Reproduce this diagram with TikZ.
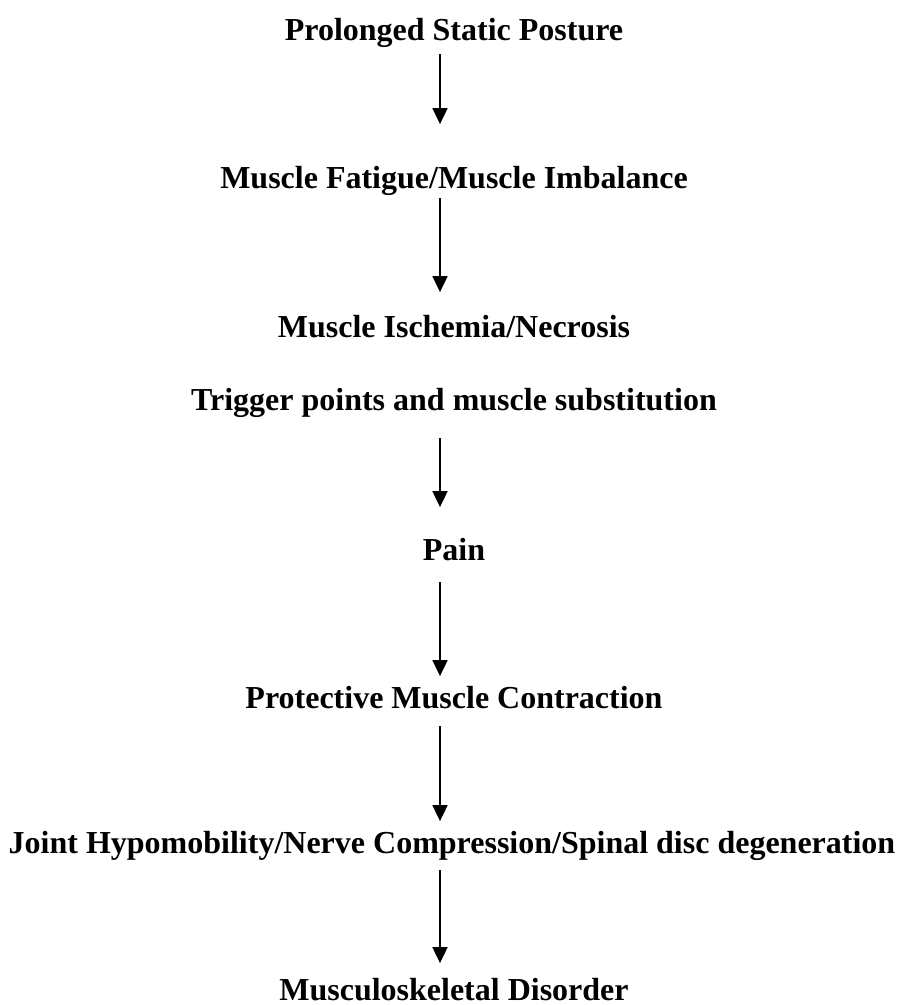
\documentclass[tikz,border=0pt]{standalone}
\usepackage{fontspec}
\setmainfont{Liberation Serif}
\usetikzlibrary{arrows.meta}
\tikzset{
  stage/.style={inner sep=0pt,anchor=base,font=\fontsize{32}{38}\selectfont\bfseries,
    text height=23pt,text depth=7pt},
}
\begin{document}
\begin{tikzpicture}[x=1pt,y=-1pt,>={Triangle[length=16pt,width=15pt]},line width=1.8pt,]
\useasboundingbox (0,0) rectangle (902,1005);
%%
  \node (node_0) at (454,40) [stage] {Prolonged Static Posture};
  \node (node_1) at (454,188) [stage] {Muscle Fatigue/Muscle Imbalance};
  \node (node_2) at (454,337) [stage] {Muscle Ischemia/Necrosis};
  \node (node_3) at (454,410) [stage] {Trigger points and muscle substitution};
  \node (node_4) at (454,560) [stage] {Pain};
  \node (node_5) at (454,708) [stage] {Protective Muscle Contraction};
  \node (node_6) at (452,853) [stage] {Joint Hypomobility/Nerve Compression/Spinal disc degeneration};
  \node (node_7) at (454,1000) [stage,text depth=0pt] {Musculoskeletal Disorder};

  \draw [black,->,shorten <=6pt,shorten >=40pt] ([xshift=-14pt]node_0.south) -- ([xshift=-14pt]node_1.north);
  \draw [black,->,shorten <=2pt,shorten >=21pt] ([xshift=-14pt]node_1.south) -- ([xshift=-14pt]node_2.north);
  \draw [black,->,shorten <=20pt,shorten >=29pt] ([xshift=-14pt]node_3.south) -- ([xshift=-14pt]node_4.north);
  \draw [black,->,shorten <=14pt,shorten >=8pt] ([xshift=-14pt]node_4.south) -- ([xshift=-14pt]node_5.north);
  \draw [black,->,shorten <=10pt,shorten >=8pt] ([xshift=-14pt]node_5.south) -- ([xshift=-12pt]node_6.north);
  \draw [black,->,shorten <=9pt,shorten >=13pt] ([xshift=-12pt]node_6.south) -- ([xshift=-14pt]node_7.north);
%
\end{tikzpicture}
\end{document}
